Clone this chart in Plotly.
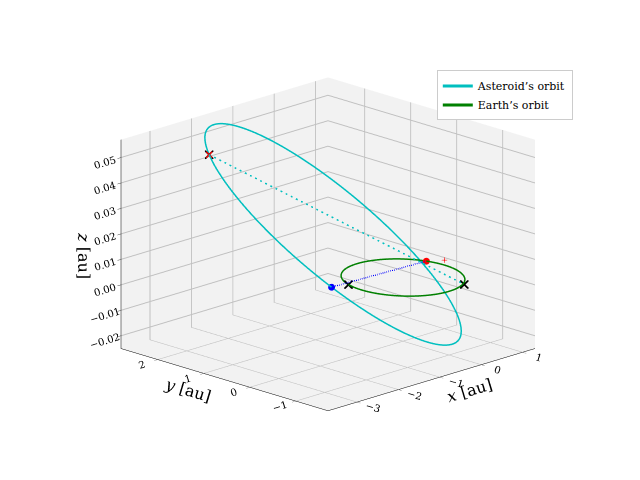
import numpy as np
import plotly.graph_objects as go

# asteroid orbit: centre and semi-axis vectors (au)
ast_center = [-0.8, 0.8, 0.0165]
ast_u = [-1.36, 1.56, 0.037]
ast_v = [1.35, 1.1, 0.007]
earth_radius = 1.0

# marked points: asteroid positions as orbit angles, others (x, y, z)
blue_theta = -1.6
top_theta = -0.3
red_dot = [0.94, 0.34, 0.0]
red_plus = [1.0, 0.0, 0.002]
black_x_left = [-0.94, 0.34, 0.0]
black_x_right = [0.77, -0.64, -0.003]

t = np.linspace(0, 2 * np.pi, 300)
c, u, v = map(np.array, (ast_center, ast_u, ast_v))
ast = c[:, None] + u[:, None] * np.cos(t) + v[:, None] * np.sin(t)
blue_dot = c + u * np.cos(blue_theta) + v * np.sin(blue_theta)
black_x_top = c + u * np.cos(top_theta) + v * np.sin(top_theta)

fig = go.Figure()
fig.add_trace(go.Scatter3d(x=ast[0], y=ast[1], z=ast[2], mode="lines",
                           line=dict(color="#00bfbf", width=3), name="Asteroid’s orbit"))
fig.add_trace(go.Scatter3d(x=earth_radius * np.cos(t), y=earth_radius * np.sin(t), z=0 * t,
                           mode="lines", line=dict(color="green", width=3), name="Earth’s orbit"))


def seg(a, b, col):
    fig.add_trace(go.Scatter3d(x=[a[0], b[0]], y=[a[1], b[1]], z=[a[2], b[2]], mode="lines",
                               line=dict(color=col, width=3, dash="dash"), showlegend=False))


def pt(p, col, sym, size):
    fig.add_trace(go.Scatter3d(x=[p[0]], y=[p[1]], z=[p[2]], mode="markers",
                               marker=dict(color=col, symbol=sym, size=size, line=dict(width=0)),
                               showlegend=False))


seg(blue_dot, red_dot, "blue")
seg(black_x_top, black_x_right, "#00bfbf")
pt(blue_dot, "blue", "circle", 4)
pt(red_dot, "red", "circle", 4)
pt(red_plus, "red", "cross", 3)
pt(black_x_left, "black", "x", 2)
pt(black_x_right, "black", "x", 2)
pt(black_x_top, "black", "x", 2)
pt(black_x_top, "red", "x", 1.5)

ax = dict(showbackground=True, backgroundcolor="#f2f2f2", gridcolor="#c0c0c0",
          zeroline=False, showline=True, linecolor="black", ticks="outside",
          tickfont=dict(size=11, family="DejaVu Serif"), showspikes=False)
fig.update_layout(
    width=640, height=480, paper_bgcolor="white",
    font=dict(family="DejaVu Serif", color="black"),
    margin=dict(l=0, r=0, t=0, b=0),
    scene=dict(
        xaxis=dict(ax, title=dict(text="<i>x</i> [au]", font=dict(size=16)), range=[-3.7, 1.3],
                   tickvals=[-3, -2, -1, 0, 1], ticktext=["−3", "−2", "−1", "0", "1"]),
        yaxis=dict(ax, title=dict(text="<i>y</i> [au]", font=dict(size=16)), range=[-1.7, 2.8],
                   tickvals=[-1, 0, 1, 2], ticktext=["−1", "0", "1", "2"]),
        zaxis=dict(ax, title=dict(text="<i>z</i> [au]", font=dict(size=16)), range=[-0.025, 0.057],
                   tickvals=[-0.02, -0.01, 0, 0.01, 0.02, 0.03, 0.04, 0.05],
                   ticktext=["−0.02", "−0.01", "0.00", "0.01", "0.02", "0.03", "0.04", "0.05"]),
        aspectmode="manual", aspectratio=dict(x=1.27, y=1.27, z=0.95),
        camera=dict(eye=dict(x=-1.3, y=-1.3, z=0.56), center=dict(x=0, y=0, z=-0.02),
                    projection=dict(type="orthographic")),
        domain=dict(x=[0.02, 0.98], y=[0.02, 0.98]),
    ),
    legend=dict(x=0.67, y=0.87, bgcolor="white", bordercolor="#cccccc", borderwidth=1,
                font=dict(size=11)),
)
fig.write_html("out.html")
